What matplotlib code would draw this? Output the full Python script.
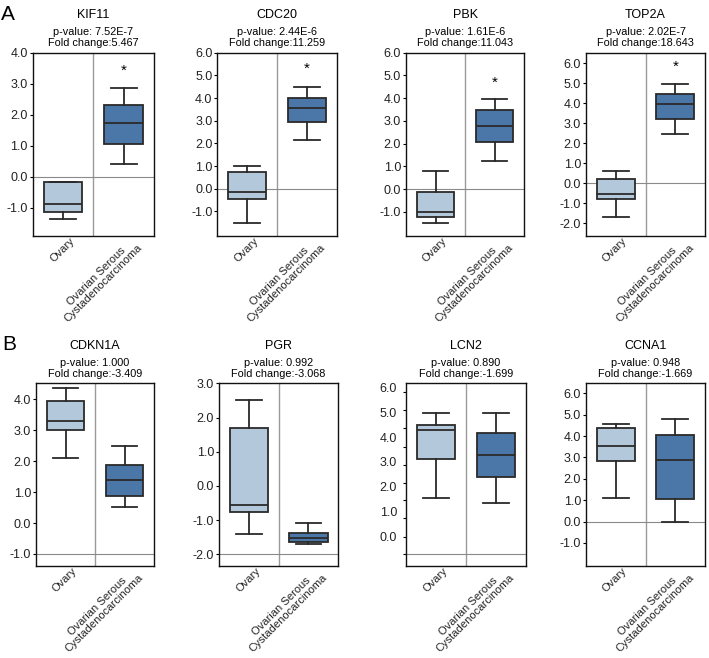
import matplotlib
matplotlib.use("Agg")
import matplotlib.pyplot as plt

plt.rcParams['font.family'] = ['Liberation Sans', 'DejaVu Sans']
plt.rcParams['axes.unicode_minus'] = False

# ---------------- data ----------------
genes = ["KIF11", "CDC20", "PBK", "TOP2A", "CDKN1A", "PGR", "LCN2", "CCNA1"]
pvalues = ["7.52E-7", "2.44E-6", "1.61E-6", "2.02E-7", "1.000", "0.992", "0.890", "0.948"]
fold_changes = ["5.467", "11.259", "11.043", "18.643", "-3.409", "-3.068", "-1.699", "-1.669"]
categories = ["Ovary", "Ovarian Serous\nCystadenocarcinoma"]

# [whisker low, Q1, median, Q3, whisker high]
ovary_stats = [
    [-1.38, -1.15, -0.88, -0.18, -0.16],
    [-1.51, -0.44, -0.16, 0.74, 0.99],
    [-1.50, -1.24, -1.01, -0.13, 0.81],
    [-1.67, -0.78, -0.53, 0.22, 0.63],
    [2.10, 3.01, 3.30, 3.95, 4.37],
    [-1.41, -0.75, -0.56, 1.68, 2.51],
    [1.52, 3.13, 4.30, 4.50, 4.97],
    [1.10, 2.85, 3.52, 4.39, 4.57],
]
serous_stats = [
    [0.39, 1.05, 1.74, 2.31, 2.85],
    [2.15, 2.95, 3.57, 4.00, 4.49],
    [1.22, 2.06, 2.78, 3.48, 3.97],
    [2.45, 3.20, 3.95, 4.48, 4.97],
    [0.51, 0.88, 1.38, 1.89, 2.49],
    [-1.71, -1.64, -1.51, -1.37, -1.09],
    [1.32, 2.39, 3.27, 4.17, 4.97],
    [0.00, 1.05, 2.88, 4.07, 4.81],
]
star_values = [3.40, 5.30, 4.68, 5.83, None, None, None, None]
ylims = [(-1.92, 4.0), (-2.08, 6.0), (-2.06, 6.0), (-2.63, 6.53),
         (-1.39, 4.52), (-2.34, 3.0), (-1.21, 6.17), (-2.08, 6.47)]
ytick_ranges = [(-1, 4), (-1, 6), (-1, 6), (-2, 6), (-1, 4), (-2, 3), (0, 6), (-1, 6)]
ref_lines = [0.0, 0.0, 0.0, 0.0, -1.0, -2.0, -0.73, 0.0]
lcn2_tick_marks = [-0.73, -0.04, 0.73, 1.45, 2.14, 2.86, 3.59, 4.35, 5.08, 5.81]

# ---------------- layout (pixels) ----------------
W, H = 709, 658
lefts_px = [(32.7, 154), (217.3, 336.7), (406, 524), (586, 705),
            (36, 154), (219, 338.3), (406, 525.7), (586, 705)]
rows_px = [(52.7, 236), (383.3, 566)]

light = "#b4c8dc"
dark = "#4a77a8"
edge = "#2a2a2a"

fig = plt.figure(figsize=(W / 100, H / 100), dpi=100)

for i, g in enumerate(genes):
    l, r = lefts_px[i]
    t, b = rows_px[i // 4]
    ax = fig.add_axes([l / W, 1 - b / H, (r - l) / W, (b - t) / H])

    stats = []
    for s in (ovary_stats[i], serous_stats[i]):
        stats.append(dict(whislo=s[0], q1=s[1], med=s[2], q3=s[3], whishi=s[4], fliers=[]))
    bp = ax.bxp(stats, positions=[0, 1], widths=0.64, capwidths=0.43,
                showfliers=False, patch_artist=True,
                boxprops=dict(edgecolor=edge, linewidth=1.3),
                medianprops=dict(color=edge, linewidth=1.3),
                whiskerprops=dict(color=edge, linewidth=1.3),
                capprops=dict(color=edge, linewidth=1.3))
    bp['boxes'][0].set_facecolor(light)
    bp['boxes'][1].set_facecolor(dark)

    ax.axvline(0.5, color="#9a9a9a", lw=1.0, zorder=0)
    ax.axhline(ref_lines[i], color="#8a8a8a", lw=0.8, zorder=0)

    ax.set_xlim(-0.5, 1.5)
    ax.set_ylim(*ylims[i])
    lo, hi = ytick_ranges[i]
    ticks = list(range(lo, hi + 1))
    ax.set_yticks(ticks)
    ax.set_yticklabels([f"{v:.1f}" for v in ticks], fontsize=9, color="#222222")
    if g == "LCN2":
        ax.set_yticks(lcn2_tick_marks, minor=True)
        ax.tick_params(axis='y', which='major', length=0, pad=6.5)
        ax.tick_params(axis='y', which='minor', length=2.5, width=0.8)
    else:
        ax.tick_params(axis='y', which='major', length=2.5, width=0.8, pad=1)

    ax.set_xticks([0, 1])
    ax.set_xticklabels([])
    ax.tick_params(axis='x', length=0)
    for pos, cat in zip([0, 1], categories):
        ax.annotate(cat, xy=(pos, 0), xycoords=('data', 'axes fraction'),
                    xytext=(4.5, 0.5), textcoords='offset points',
                    fontsize=8.0, rotation=45, rotation_mode='anchor',
                    ha='right', va='top', multialignment='center',
                    color="#222222", linespacing=1.0, annotation_clip=False)
    for sp in ax.spines.values():
        sp.set_linewidth(1.0)
        sp.set_color("#111111")

    if star_values[i] is not None:
        ax.text(1, star_values[i], "*", ha='center', va='center', fontsize=11)

    xc = (l + r) / 2 / W
    fig.text(xc, 1 - (t - 37.7) / H, g, ha='center', va='center', fontsize=9)
    fig.text(xc, 1 - (t - 20.7) / H, f"p-value: {pvalues[i]}", ha='center', va='center', fontsize=7.8)
    fig.text(xc, 1 - (t - 9.7) / H, f"Fold change:{fold_changes[i]}", ha='center', va='center', fontsize=7.8)

fig.text(8 / W, 1 - 14 / H, "A", ha='center', va='center', fontsize=15)
fig.text(9 / W, 1 - 344 / H, "B", ha='center', va='center', fontsize=15)

fig.savefig("out.png", dpi=100)
